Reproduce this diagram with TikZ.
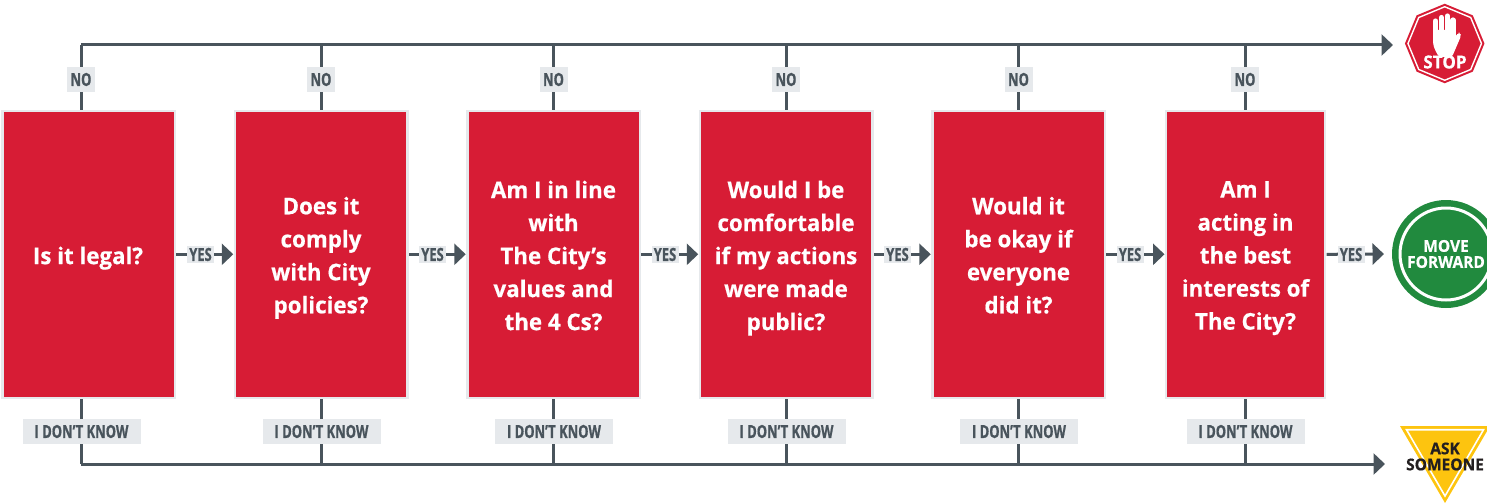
\documentclass[tikz,border=0pt]{standalone}
\usepackage{fontspec}
\setmainfont{Open Sans}[BoldFont={* Bold}]
\newfontfamily\boxf{Open Sans}[BoldFont={* Bold},BoldFeatures={FakeStretch=0.97,FakeBold=0.5}]
\newfontfamily\signf{Open Sans}[BoldFont={* Bold},BoldFeatures={FakeStretch=0.95,FakeBold=0.5}]
\newfontfamily\condf{Open Sans}[BoldFont={* Bold},BoldFeatures={FakeStretch=0.72,FakeBold=0.8}]
\usetikzlibrary{arrows.meta,shapes.geometric,backgrounds}
\definecolor{cityred}{HTML}{D71C35}
\definecolor{pale}{HTML}{E6E9EC}
\definecolor{slate}{HTML}{49545C}
\definecolor{cgreen}{HTML}{218A3E}
\definecolor{cyellow}{HTML}{FDC40F}
\definecolor{ink}{HTML}{231F20}
\newcommand{\lastline}{\rule[-9.9pt]{0pt}{9.9pt}}
\tikzset{
  x=1pt,y=-1pt,
  redbox/.style={rectangle,fill=cityred,draw=pale,line width=2.5pt,outer sep=0pt,inner sep=0pt,
    minimum height=287pt},
  boxtxt/.style={text=white,align=center,inner sep=0pt,
    font=\boxf\fontsize{23}{33}\selectfont\bfseries},
  lab/.style={rectangle,fill=pale,text=slate,inner sep=0pt,minimum height=25pt,
    font=\condf\fontsize{18}{18}\selectfont\bfseries},
  nolab/.style={lab,minimum width=28pt},
  idk/.style={lab,minimum width=118pt},
  yeslab/.style={lab,minimum height=17pt,minimum width=27pt},
  conn/.style={draw=slate,line width=3pt},
  arr/.style={conn,-{Triangle[length=11.5pt,width=21pt]}},
  sign/.style={font=\signf\fontsize{16.3}{16}\selectfont\bfseries,align=center,inner sep=0pt},
}
\begin{document}
\begin{tikzpicture}
\useasboundingbox (0,0) rectangle (1487,503);
\clip (0,0) rectangle (1487,503);
% boxes
\node[redbox,minimum width=172.5pt] (b1) at (88.5,254.3) {};
\node[redbox,minimum width=172.5pt] (b2) at (321,254.3) {};
\node[redbox,minimum width=172.5pt] (b3) at (553.5,254.3) {};
\node[redbox,minimum width=172.5pt] (b4) at (786,254.3) {};
\node[redbox,minimum width=172.5pt] (b5) at (1018.5,254.3) {};
\node[redbox,minimum width=159pt] (b6) at (1245.5,254.3) {};
\node[boxtxt] (q1) at (88,254.3) {\rule{0pt}{29.5pt}Is it legal?\lastline};
\node[boxtxt] (q2) at (321,260) {Does it\\comply\\with City\\policies?\lastline};
\node[boxtxt] (q3) at (553.5,260.3) {Am I in line\\with\\The City’s\\values and\\the 4 Cs?\lastline};
\node[boxtxt] (q4) at (786,260.3) {Would I be\\comfortable\\if my actions\\were made\\public?\lastline};
\node[boxtxt] (q5) at (1018.5,260) {Would it\\be okay if\\everyone\\did it?\lastline};
\node[boxtxt] (q6) at (1245.5,260.3) {Am I\\acting in\\the best\\interests of\\The City?\lastline};
% signs
\node[regular polygon,regular polygon sides=8,shape border rotate=22.5,minimum size=79.5pt,inner sep=0pt,outer sep=0pt,fill=cityred] (stop) at (1444.7,43.5) {};
\node[regular polygon,regular polygon sides=8,shape border rotate=22.5,minimum size=73.5pt,inner sep=0pt,draw=white,line width=1.4pt] (stopring) at (1444.7,43.5) {};
\fill[white,rounded corners=2pt] (1433,30) -- (1433,44) -- (1435,50) -- (1439,57) -- (1452,57) -- (1455,50) -- (1461,36) -- (1460.5,33) -- (1458,32.5) -- (1455.5,37) -- (1455.5,30) -- cycle;
\foreach \px/\py in {1435.5/21,1441.3/17.5,1447.3/16,1453/20}
  \draw[white,line width=5.2pt,line cap=round] (\px,\py) -- (\px,36);
\node[sign,text=white,font=\signf\fontsize{18}{18}\selectfont\bfseries] (stoptxt) at (1445,62) {STOP};
\node[circle,fill=cgreen,minimum size=108pt,inner sep=0pt,outer sep=0pt] (move) at (1446,254) {};
\node[circle,draw=white,line width=3pt,minimum size=92pt,inner sep=0pt] (movering) at (1446,254) {};
\node[sign,text=white] (movetxt) at (1446,254) {MOVE\\FORWARD};
\fill[cyellow] (1400,426) -- (1490,426) -- (1445,503) -- cycle;
\draw[white,line width=1.6pt,line join=miter] (1406.5,429.7) -- (1483.5,429.7) -- (1445,496) -- cycle;
\node[sign,text=ink] (asktxt) at (1445,456.5) {ASK\\SOMEONE};
% free ends
\coordinate (topL) at (81,45);
\coordinate (topR) at (1393,45);
\coordinate (botL) at (81,464);
\coordinate (botR) at (1385,464);
% labels
\foreach \i/\x in {1/81,2/321,3/553.5,4/786,5/1018.5,6/1245}{
  \node[nolab] (no\i) at (\x,79.5) {NO};
  \node[idk] (dk\i) at (\x+0.5,431.5) {I DON’T KNOW};
  \coordinate (tj\i) at (\x,45);
  \coordinate (bj\i) at (\x,464);
}
\foreach \i/\x in {1/200.5,2/432.5,3/665,4/897.5,5/1130,6/1351}
  \node[yeslab] (yes\i) at (\x,254.5) {YES};
\begin{scope}[on background layer]
  \draw[conn,line cap=butt] (b1.north -| topL) -- (topL);
  \draw[arr] (topL) -- (topR);
  \draw[conn] (b1.south -| botL) -- (botL);
  \draw[arr] (botL) -- (botR);
  \foreach \i in {2,3,4,5,6}{
    \draw[conn] (b\i.north -| tj\i) -- (tj\i);
    \draw[conn] (b\i.south -| bj\i) -- (bj\i);
  }
  \draw[arr,shorten <=1.5pt,shorten >=1.5pt] (b1.east) -- (b2.west);
  \draw[arr,shorten <=1.5pt,shorten >=1.5pt] (b2.east) -- (b3.west);
  \draw[arr,shorten <=1.5pt,shorten >=1.5pt] (b3.east) -- (b4.west);
  \draw[arr,shorten <=1.5pt,shorten >=1.5pt] (b4.east) -- (b5.west);
  \draw[arr,shorten <=1.5pt,shorten >=1.5pt] (b5.east) -- (b6.west);
  \draw[arr,shorten <=1.5pt,shorten >=8pt] (b6.east) -- (move.west);
\end{scope}
\end{tikzpicture}
\end{document}
